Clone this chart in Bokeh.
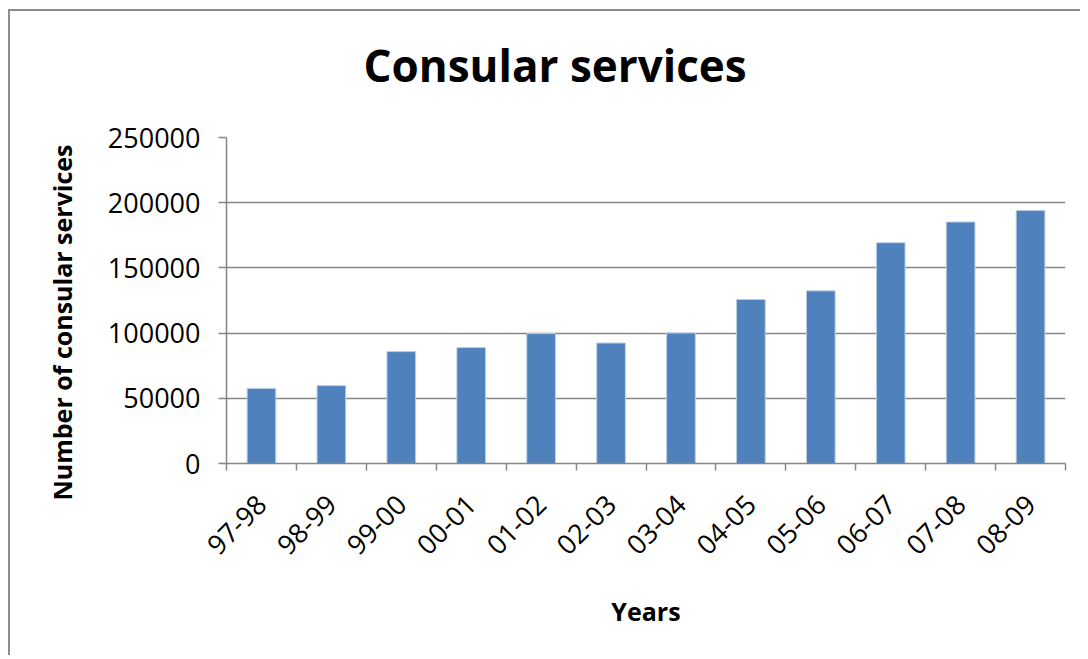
import math
from bokeh.plotting import figure
from bokeh.models import Range1d, FixedTicker, NumeralTickFormatter, Title, LinearAxis
from bokeh.embed import file_html
from bokeh.resources import INLINE

years = ["97-98", "98-99", "99-00", "00-01", "01-02", "02-03",
         "03-04", "04-05", "05-06", "06-07", "07-08", "08-09"]
services = [57600, 59700, 85800, 88900, 99600, 92400,
            100100, 125800, 132400, 169300, 185200, 194100]
y_ticks = [0, 50000, 100000, 150000, 200000, 250000]

FONT = "Open Sans"
GRID = "#868686"

n = len(years)
centers = [i + 0.5 for i in range(n)]
bounds = list(range(n + 1))

p = figure(width=1072, height=646, output_backend="svg", toolbar_location=None,
           x_range=Range1d(0, n), y_range=Range1d(0, 250000),
           x_axis_type=None, min_border_left=216, min_border_right=17,
           min_border_top=126, min_border_bottom=194)
p.styles = {"border-left": "2px solid #8c8c8c", "border-top": "2px solid #8c8c8c",
            "margin-left": "8px", "margin-top": "9px"}
p.outline_line_color = None
p.background_fill_color = "white"
p.border_fill_color = "white"

p.vbar(x=centers, top=services, width=0.41, bottom=0,
       fill_color="#4F81BD", line_color="#B9CDE5", line_width=1)

# invisible (white) spacer axis, added first so it sits next to the frame
spacer = LinearAxis(ticker=FixedTicker(ticks=[0.05], minor_ticks=[]), axis_line_color=None,
                    major_tick_line_color="white", major_tick_line_width=1,
                    minor_tick_line_color=None,
                    major_tick_in=0, major_tick_out=43, minor_tick_out=0,
                    major_label_standoff=0, major_label_text_font_size="1px",
                    major_label_text_color="white",
                    major_label_overrides={0.05: ""})
p.add_layout(spacer, "above")

t = Title(text="Consular services", align="left", offset=137,
          text_font=FONT, text_font_size="44px", text_font_style="bold",
          text_color="black", standoff=0)
p.add_layout(t, "above")

xaxis = LinearAxis(ticker=FixedTicker(ticks=centers, minor_ticks=bounds),
                   major_label_overrides={c: y for c, y in zip(centers, years)})
xaxis.major_tick_line_color = None
xaxis.minor_tick_line_color = GRID
xaxis.minor_tick_line_width = 1.5
xaxis.minor_tick_in = 0
xaxis.minor_tick_out = 7
xaxis.axis_line_color = GRID
xaxis.axis_line_width = 1.5
xaxis.major_label_orientation = math.pi / 4
xaxis.major_label_standoff = 29
xaxis.major_label_text_font = FONT
xaxis.major_label_text_font_size = "27px"
xaxis.major_label_text_color = "black"
xaxis.axis_label = "Years"
xaxis.axis_label_text_font = FONT
xaxis.axis_label_text_font_size = "25px"
xaxis.axis_label_text_font_style = "bold"
xaxis.axis_label_text_color = "black"
xaxis.axis_label_standoff = 28
p.add_layout(xaxis, "below")

ya = p.yaxis[0]
ya.ticker = FixedTicker(ticks=y_ticks)
ya.formatter = NumeralTickFormatter(format="0")
ya.major_tick_line_color = GRID
ya.major_tick_line_width = 1.5
ya.major_tick_in = 0
ya.major_tick_out = 8
ya.minor_tick_line_color = None
ya.axis_line_color = GRID
ya.axis_line_width = 1.5
ya.major_label_standoff = 18
ya.major_label_text_font = FONT
ya.major_label_text_font_size = "27px"
ya.major_label_text_color = "black"

ylab = Title(text="Number of consular services", align="left", offset=-37,
             text_font=FONT, text_font_size="25px", text_font_style="bold",
             text_color="black", standoff=52)
p.add_layout(ylab, "left")

p.xgrid.visible = False
p.ygrid.ticker = FixedTicker(ticks=y_ticks)
p.ygrid.grid_line_color = GRID
p.ygrid.grid_line_width = 1.5

open("out.html", "w").write(file_html(p, INLINE))
